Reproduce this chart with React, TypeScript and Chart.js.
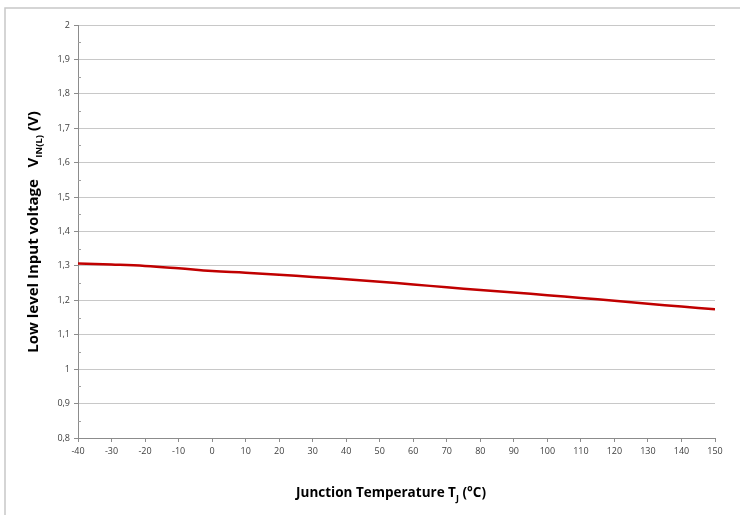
import React, { useEffect, useRef } from "react";
import { Chart, registerables } from "chart.js";

Chart.register(...registerables);

const temperatures = [-40, -30, -20, -10, 0, 10, 20, 30, 40, 50, 60, 70, 80, 90, 100, 110, 120, 130, 140, 150];
const voltages = [1.307, 1.304, 1.3, 1.293, 1.285, 1.28, 1.274, 1.268, 1.261, 1.254, 1.246, 1.238, 1.23, 1.223, 1.215, 1.207, 1.199, 1.19, 1.182, 1.174];
const xTitleMain = "Junction Temperature T";
const xTitleSub = "J";
const xTitleEnd = " (°C)";
const yTitleMain = "Low level Input voltage   V";
const yTitleSub = "IN(L)";
const yTitleEnd = " (V)";

const FONT = "'Open Sans', 'Liberation Sans', sans-serif";

function drawSubTitle(ctx: CanvasRenderingContext2D, main: string, sub: string, end: string, size: number, subSize: number) {
  ctx.font = `bold ${size}px ${FONT}`;
  const w1 = ctx.measureText(main).width;
  const w3 = ctx.measureText(end).width;
  ctx.font = `bold ${subSize}px ${FONT}`;
  const w2 = ctx.measureText(sub).width;
  const total = w1 + w2 + w3;
  let x = -total / 2;
  ctx.textBaseline = "alphabetic";
  ctx.textAlign = "left";
  ctx.font = `bold ${size}px ${FONT}`;
  ctx.fillText(main, x, 0);
  x += w1;
  ctx.font = `bold ${subSize}px ${FONT}`;
  ctx.fillText(sub, x, size * 0.28);
  x += w2;
  ctx.font = `bold ${size}px ${FONT}`;
  ctx.fillText(end, x, 0);
}

const decorPlugin = {
  id: "decor",
  beforeDraw(chart: any) {
    const ctx = chart.ctx;
    ctx.save();
    ctx.fillStyle = "#ffffff";
    ctx.fillRect(0, 0, chart.width, chart.height);
    ctx.strokeStyle = "#c8c8c8";
    ctx.lineWidth = 1.5;
    ctx.beginPath();
    ctx.moveTo(5, chart.height + 2);
    ctx.lineTo(5, 8);
    ctx.lineTo(chart.width + 2, 8);
    ctx.stroke();
    ctx.restore();
  },
  afterDraw(chart: any) {
    const ctx = chart.ctx;
    const ys = chart.scales.y;
    const area = chart.chartArea;
    ctx.save();
    ctx.strokeStyle = "#a0a0a0";
    ctx.lineWidth = 1;
    for (let v = 0.85; v < 2; v += 0.1) {
      const py = Math.round(ys.getPixelForValue(v)) + 0.5;
      ctx.beginPath();
      ctx.moveTo(area.left, py);
      ctx.lineTo(area.left + 3, py);
      ctx.stroke();
    }
    ctx.fillStyle = "#000000";
    ctx.translate(391, 497);
    drawSubTitle(ctx, xTitleMain, xTitleSub, xTitleEnd, 13.5, 9);
    ctx.setTransform(1, 0, 0, 1, 0, 0);
    ctx.translate(38, 232);
    ctx.rotate(-Math.PI / 2);
    drawSubTitle(ctx, yTitleMain, yTitleSub, yTitleEnd, 15, 9.5);
    ctx.restore();
  },
};

export default function App() {
  const ref = useRef<HTMLCanvasElement>(null);
  useEffect(() => {
    document.body.style.margin = "0";
    const chart = new Chart(ref.current!, {
      type: "line",
      data: {
        datasets: [
          {
            data: temperatures.map((t, i) => ({ x: t, y: voltages[i] })),
            borderColor: "#c00000",
            borderWidth: 2.5,
            pointRadius: 0,
            tension: 0.4,
            fill: false,
          },
        ],
      },
      options: {
        animation: false,
        responsive: false,
        devicePixelRatio: 1,
        layout: { padding: { top: 25, right: 25, left: 0, bottom: 0 } },
        plugins: { legend: { display: false }, tooltip: { enabled: false } },
        scales: {
          x: {
            type: "linear",
            min: -40,
            max: 150,
            afterFit: (s: any) => { s.height = 77; },
            ticks: {
              stepSize: 10,
              color: "#404040",
              font: { family: FONT, size: 9 },
              padding: 4,
              maxRotation: 0,
            },
            grid: { drawOnChartArea: false, drawTicks: true, tickLength: 4, color: "#8c8c8c" },
            border: { color: "#8c8c8c", width: 1 },
          },
          y: {
            min: 0.8,
            max: 2,
            afterFit: (s: any) => { s.width = 78; },
            ticks: {
              stepSize: 0.1,
              color: "#404040",
              font: { family: FONT, size: 9 },
              padding: 4,
              callback: (v: any) => {
                const r = Math.round(Number(v) * 10) / 10;
                return Number.isInteger(r) ? String(r) : r.toFixed(1).replace(".", ",");
              },
            },
            grid: { color: "#c8c8c8", tickLength: 4, tickColor: "#8c8c8c" },
            border: { color: "#8c8c8c", width: 1 },
          },
        },
      },
      plugins: [decorPlugin],
    });
    return () => chart.destroy();
  }, []);
  return (
    <div style={{ width: 740, height: 515 }}>
      <canvas ref={ref} width={740} height={515} style={{ display: "block" }} />
    </div>
  );
}
